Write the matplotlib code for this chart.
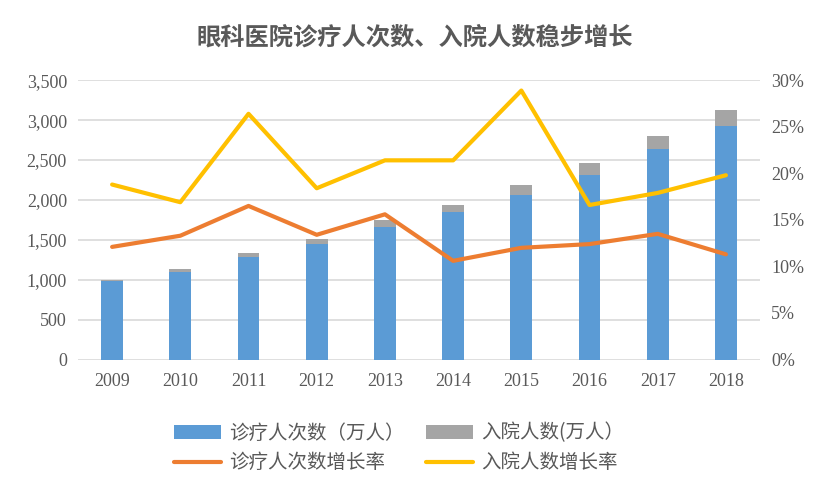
import matplotlib
matplotlib.use('Agg')
import matplotlib.pyplot as plt
from matplotlib.ticker import FuncFormatter, MultipleLocator

years = ['2009', '2010', '2011', '2012', '2013', '2014', '2015', '2016', '2017', '2018']
zhenliao = [980, 1100, 1279, 1446, 1667, 1846, 2067, 2317, 2638, 2925]
ruyuan = [20, 37, 54, 66, 83, 96, 121, 150, 162, 208]
zhenliao_rate = [12.1, 13.3, 16.5, 13.4, 15.6, 10.6, 12.0, 12.4, 13.5, 11.3]
ruyuan_rate = [18.8, 16.9, 26.4, 18.4, 21.4, 21.4, 28.9, 16.6, 17.9, 19.8]

cjk = ['Noto Sans CJK SC', 'DejaVu Sans']
num_font = 'Liberation Serif'
txt = '#595959'

fig = plt.figure(figsize=(8.3, 5), dpi=100)
ax = fig.add_axes([0.094, 0.281, 0.8217, 0.5584])
ax2 = ax.twinx()

x = list(range(len(years)))
b1 = ax.bar(x, zhenliao, width=0.32, color='#5B9BD5', label='诊疗人次数（万人）', zorder=2)
b2 = ax.bar(x, ruyuan, width=0.32, bottom=zhenliao, color='#A5A5A5', label='入院人数(万人）', zorder=2)

l1, = ax2.plot(x, zhenliao_rate, color='#ED7D31', lw=3, label='诊疗人次数增长率', solid_capstyle='round')
l2, = ax2.plot(x, ruyuan_rate, color='#FFC000', lw=3, label='入院人数增长率', solid_capstyle='round')

ax.set_xlim(-0.5, len(years) - 0.5)
ax.set_ylim(0, 3500)
ax2.set_ylim(0, 30)
ax.yaxis.set_major_locator(MultipleLocator(500))
ax2.yaxis.set_major_locator(MultipleLocator(5))
ax.yaxis.set_major_formatter(FuncFormatter(lambda v, p: f'{int(v):,}'))
ax2.yaxis.set_major_formatter(FuncFormatter(lambda v, p: f'{int(v)}%'))
ax.set_xticks(x)
ax.set_xticklabels(years)

ax.grid(axis='y', color='#D9D9D9', lw=1.2, zorder=0)
ax.set_axisbelow(True)
for a in (ax, ax2):
    for s in a.spines.values():
        s.set_visible(False)
    a.tick_params(length=0, labelsize=13, labelcolor=txt)
    for lab in a.get_xticklabels() + a.get_yticklabels():
        lab.set_fontfamily(num_font)
ax.tick_params(axis='x', pad=10)
ax.tick_params(axis='y', pad=8)
ax2.tick_params(axis='y', pad=8)

fig.text(0.5, 0.925, '眼科医院诊疗人次数、入院人数稳步增长', ha='center', va='center',
         fontsize=17.5, fontweight='bold', color=txt, family=cjk)

# row-major order like the original: bars on top row, lines below
handles = [b1, l1, b2, l2]
leg = fig.legend(handles, [h.get_label() for h in handles],
                 loc='center', bbox_to_anchor=(0.481, 0.104), ncol=2, frameon=False,
                 prop={'family': cjk, 'size': 14}, handlelength=2.4, handletextpad=0.45,
                 columnspacing=1.1, labelspacing=0.45)
for t in leg.get_texts():
    t.set_color(txt)

fig.savefig('out.png', dpi=100)
